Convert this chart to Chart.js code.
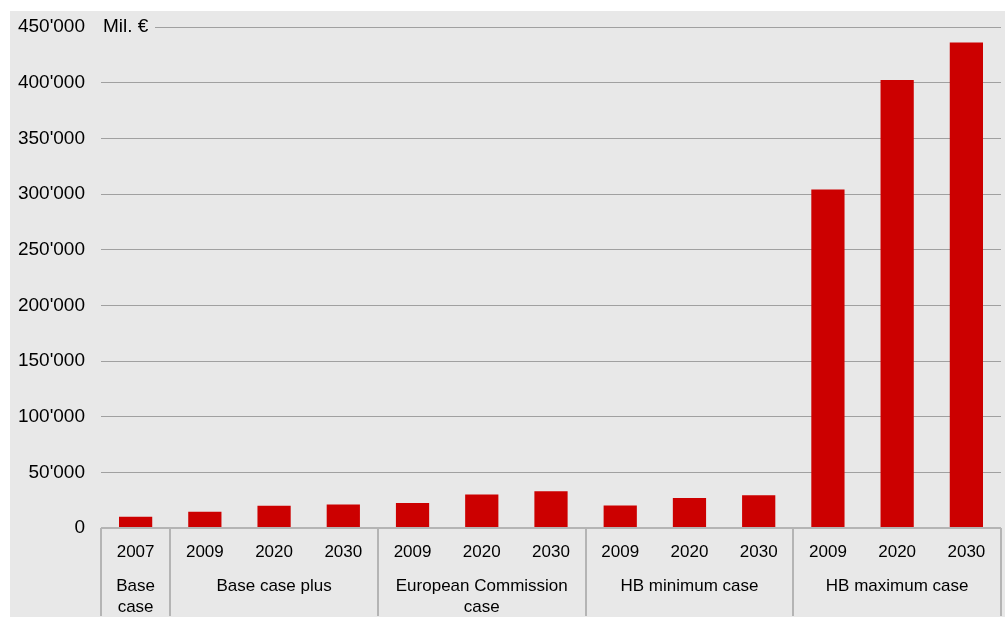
<!DOCTYPE html>
<html>
<head>
<meta charset="utf-8">
<script src="https://cdn.jsdelivr.net/npm/chart.js@4/dist/chart.umd.min.js"></script>
<style>
  html, body { margin: 0; padding: 0; background: #fff; }
  #wrap { position: absolute; left: 10px; top: 11px; width: 995px; height: 606px; background: #e8e8e8; }
</style>
</head>
<body>
<div id="wrap"><canvas id="chart"></canvas></div>
<script>
// Investment per scenario, Mil. €
const years = ['2007', '2009', '2020', '2030', '2009', '2020', '2030', '2009', '2020', '2030', '2009', '2020', '2030'];
const values = [10000, 14500, 20000, 21000, 22500, 30000, 33000, 20200, 27000, 29500, 304000, 402300, 436000];
const groupLabels = [['Base', 'case'], ['Base case plus'], ['European Commission', 'case'], ['HB minimum case'], ['HB maximum case']];
const groupSizes = [1, 3, 3, 3, 3];
const unitLabel = 'Mil. €';

const bgColor = '#e8e8e8';
const fontFamily = '"Liberation Sans", Arial, sans-serif';

function fmt(v) {
    if (v === 0) return '0';
    return (v / 1000) + "'000";
}

// axis line, group separators, group names and the unit label
const groupPlugin = {
    id: 'groups',
    afterDraw(chart) {
        const ctx = chart.ctx;
        const xs = chart.scales.x;
        const ys = chart.scales.y;
        const area = chart.chartArea;
        const axisY = ys.getPixelForValue(0);
        const half = (xs.getPixelForValue(1) - xs.getPixelForValue(0)) / 2;

        ctx.save();
        ctx.strokeStyle = '#b4b4b4';
        ctx.lineWidth = 2;
        ctx.beginPath();
        ctx.moveTo(area.left, axisY);
        ctx.lineTo(area.right, axisY);
        ctx.stroke();

        ctx.font = '17px ' + fontFamily;
        ctx.fillStyle = '#000';
        ctx.textAlign = 'center';
        ctx.textBaseline = 'middle';

        let start = 0;
        const bounds = [start];
        groupSizes.forEach(n => { start += n; bounds.push(start); });
        bounds.forEach(b => {
            const px = Math.round(xs.getPixelForValue(b) - half);
            ctx.beginPath();
            ctx.moveTo(px, axisY);
            ctx.lineTo(px, chart.height - 1);
            ctx.stroke();
        });
        groupLabels.forEach((lines, g) => {
            const x0 = xs.getPixelForValue(bounds[g]) - half;
            const x1 = xs.getPixelForValue(bounds[g + 1]) - half;
            lines.forEach((t, k) => {
                ctx.fillText(t, (x0 + x1) / 2, axisY + 58 + k * 21);
            });
        });

        // unit label sits on the top gridline
        const topY = ys.getPixelForValue(450000);
        ctx.font = '19px ' + fontFamily;
        ctx.fillStyle = bgColor;
        ctx.fillRect(area.left, topY - 3, 54, 6);
        ctx.fillStyle = '#000';
        ctx.textAlign = 'left';
        ctx.fillText(unitLabel, area.left + 2, topY);
        ctx.restore();
    }
};

new Chart(document.getElementById('chart'), {
    type: 'bar',
    data: {
        labels: years,
        datasets: [{
            data: values,
            backgroundColor: '#cc0000',
            categoryPercentage: 1,
            barPercentage: 0.48
        }]
    },
    options: {
        responsive: true,
        maintainAspectRatio: false,
        animation: false,
        layout: { padding: { top: 16, right: 4, left: 0, bottom: 0 } },
        plugins: {
            legend: { display: false },
            tooltip: { enabled: false }
        },
        scales: {
            x: {
                grid: { display: false },
                border: { display: false },
                ticks: {
                    color: '#000',
                    font: { family: fontFamily, size: 17 },
                    padding: 6,
                    maxRotation: 0
                },
                afterFit(scale) {
                    scale.height = 89;
                    scale.paddingLeft = 0;
                    scale.paddingRight = 0;
                }
            },
            y: {
                min: 0,
                max: 450000,
                grid: { color: '#a0a0a0', lineWidth: 1, drawTicks: false },
                border: { display: false },
                ticks: {
                    stepSize: 50000,
                    color: '#000',
                    font: { family: fontFamily, size: 19 },
                    padding: 16,
                    callback: v => fmt(v)
                },
                afterFit(scale) {
                    scale.width = 91;
                    scale.paddingTop = 0;
                    scale.paddingBottom = 0;
                }
            }
        }
    },
    plugins: [groupPlugin]
});
</script>
</body>
</html>
